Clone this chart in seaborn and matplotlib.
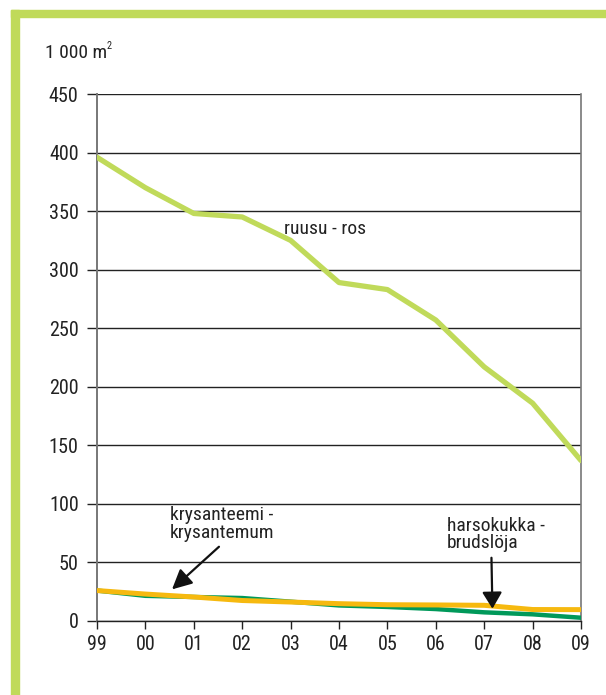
import numpy as np
import pandas as pd
import matplotlib.pyplot as plt
import seaborn as sns
from matplotlib.patches import Rectangle

# --- DADES (llegides del gràfic) ---
vuodet = [1999, 2000, 2001, 2002, 2003, 2004, 2005, 2006, 2007, 2008, 2009]
ruusu = [396, 370, 348, 345, 325, 289, 283, 257, 217, 186, 137]
krysanteemi = [26, 23, 20.5, 17.5, 16.2, 14.8, 13.9, 13.7, 13.4, 9.8, 9.7]
harsokukka = [26, 21.5, 20.5, 19.6, 16.5, 13.3, 12, 10.2, 7.4, 5.7, 2.8]
x_labels = [str(v)[-2:] for v in vuodet]

VAALEA_VIHREA = "#c0da5a"
KELTAINEN = "#f6b90f"
TUMMA_VIHREA = "#00995a"
TEKSTI = "#222222"

sns.set_style("white")
# kapea fontti kuten alkuperäisessä, varalla tavalliset
plt.rcParams['font.family'] = ['Roboto Condensed', 'Liberation Sans', 'DejaVu Sans']

fig = plt.figure(figsize=(6.06, 6.95), dpi=100)
ax = fig.add_axes([97 / 606, 1 - 621 / 695, (581 - 97) / 606, (621 - 94) / 695])

# kehys
fig.patches.append(Rectangle((11 / 606, 0), 8 / 606, 1 - 10 / 695, transform=fig.transFigure,
                             color=VAALEA_VIHREA, zorder=0))
fig.patches.append(Rectangle((11 / 606, 1 - 17 / 695), 1, 7 / 695, transform=fig.transFigure,
                             color=VAALEA_VIHREA, zorder=0))

df = pd.DataFrame({'x': np.arange(len(vuodet)), 'ruusu': ruusu,
                   'krysanteemi': krysanteemi, 'harsokukka': harsokukka})

sns.lineplot(data=df, x='x', y='ruusu', color=VAALEA_VIHREA, linewidth=3.8, ax=ax, zorder=3)
sns.lineplot(data=df, x='x', y='harsokukka', color=TUMMA_VIHREA, linewidth=3.2, ax=ax, zorder=3)
sns.lineplot(data=df, x='x', y='krysanteemi', color=KELTAINEN, linewidth=3.6, ax=ax, zorder=4)

ax.set_xlim(0, len(vuodet) - 1)
ax.set_ylim(0, 450)
ax.set_yticks(range(0, 451, 50))
ax.set_xticks(df['x'])
ax.set_xticklabels(x_labels)
ax.set_xlabel('')
ax.set_ylabel('')
ax.grid(axis='y', color=TEKSTI, linewidth=1.0)
ax.set_axisbelow(True)

ax.spines['top'].set_visible(False)
ax.spines['left'].set_color('#777777')
ax.spines['left'].set_linewidth(1.4)
ax.spines['right'].set_color('#777777')
ax.spines['right'].set_linewidth(1.2)
ax.spines['bottom'].set_color(TEKSTI)
ax.spines['bottom'].set_linewidth(1.0)

ax.tick_params(axis='y', length=7.2, width=1, color=TEKSTI, pad=6, labelsize=14.5,
               labelcolor=TEKSTI, left=True)
ax.tick_params(axis='x', length=6, width=1, color=TEKSTI, pad=4, labelsize=14.5,
               labelcolor=TEKSTI, bottom=True)

fig.text(45 / 606, 1 - 53 / 695, '1 000 m', fontsize=14, color=TEKSTI, va='center', ha='left')
fig.text(107 / 606, 1 - 46 / 695, '2', fontsize=7.5, color=TEKSTI, va='center', ha='left')

ax.text(3.86, 335, 'ruusu - ros', fontsize=14, color=TEKSTI, va='center', ha='left')
ax.text(1.51, 98, 'krysanteemi -\nkrysantemum', fontsize=14, color=TEKSTI, va='top', ha='left',
        linespacing=0.95)
ax.text(7.23, 89, 'harsokukka -\nbrudslöja', fontsize=14, color=TEKSTI, va='top', ha='left',
        linespacing=0.95)

ax.annotate('', xy=(1.55, 27), xytext=(2.52, 63.4),
            arrowprops=dict(arrowstyle='-|>,head_length=1.2,head_width=0.6', color='#111111',
                            linewidth=1.6, shrinkA=0, shrinkB=0), zorder=6)
ax.annotate('', xy=(8.17, 10.5), xytext=(8.15, 54),
            arrowprops=dict(arrowstyle='-|>,head_length=1.0,head_width=0.6', color='#111111',
                            linewidth=1.6, shrinkA=0, shrinkB=0), zorder=6)

plt.savefig('out.png', dpi=100)
